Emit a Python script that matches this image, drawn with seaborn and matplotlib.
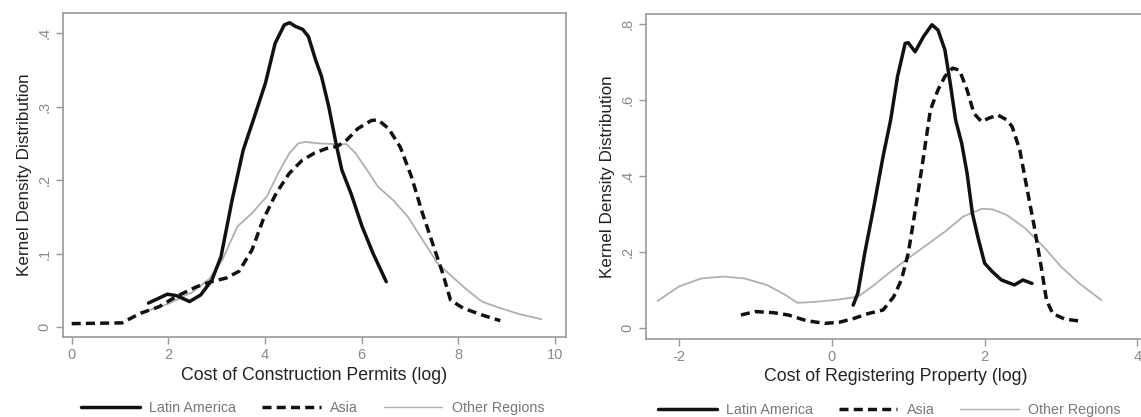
import numpy as np
import pandas as pd
import matplotlib
matplotlib.use("Agg")
import matplotlib.pyplot as plt
import seaborn as sns
from matplotlib.lines import Line2D

sns.set_theme(style="white")
plt.rcParams['font.family'] = ['Liberation Sans', 'DejaVu Sans']

# ---- Left panel: Cost of Construction Permits (log) ----
cp_latam_x = [1.59, 1.98, 2.17, 2.44, 2.67, 2.90, 3.09, 3.32, 3.55, 3.78, 4.01, 4.21, 4.40, 4.51,
              4.63, 4.78, 4.90, 5.05, 5.17, 5.32, 5.47, 5.59, 5.78, 6.01, 6.24, 6.51]
cp_latam_y = [0.033, 0.045, 0.043, 0.035, 0.044, 0.064, 0.096, 0.173, 0.241, 0.286, 0.332, 0.386,
              0.411, 0.414, 0.409, 0.405, 0.395, 0.363, 0.341, 0.300, 0.250, 0.214, 0.182, 0.137,
              0.100, 0.062]
cp_asia_x = [0.0, 1.04, 1.42, 1.81, 2.17, 2.58, 2.89, 3.20, 3.46, 3.73, 3.96, 4.23, 4.50, 4.77,
             5.03, 5.27, 5.50, 5.70, 5.92, 6.20, 6.34, 6.56, 6.80, 7.03, 7.26, 7.49, 7.68, 7.84,
             8.10, 8.48, 8.87]
cp_asia_y = [0.005, 0.006, 0.019, 0.028, 0.042, 0.055, 0.062, 0.067, 0.076, 0.105, 0.146, 0.182,
             0.209, 0.227, 0.237, 0.243, 0.246, 0.255, 0.270, 0.281, 0.282, 0.270, 0.245, 0.205,
             0.155, 0.110, 0.073, 0.037, 0.026, 0.017, 0.009]
cp_other_x = [1.55, 2.00, 2.50, 2.85, 3.12, 3.43, 3.73, 4.04, 4.27, 4.50, 4.69, 4.84, 5.11, 5.42,
              5.69, 5.88, 6.11, 6.34, 6.65, 6.96, 7.26, 7.57, 7.87, 8.18, 8.49, 8.87, 9.26, 9.72]
cp_other_y = [0.022, 0.032, 0.048, 0.066, 0.092, 0.137, 0.155, 0.178, 0.209, 0.236, 0.250, 0.252,
              0.250, 0.249, 0.249, 0.236, 0.214, 0.191, 0.173, 0.150, 0.119, 0.087, 0.069, 0.051,
              0.035, 0.026, 0.018, 0.011]

# ---- Right panel: Cost of Registering Property (log) ----
rp_latam_x = [0.28, 0.34, 0.43, 0.55, 0.67, 0.77, 0.86, 0.96, 1.00, 1.09, 1.20, 1.31, 1.39, 1.48,
              1.55, 1.62, 1.70, 1.77, 1.84, 1.91, 2.00, 2.10, 2.22, 2.39, 2.50, 2.62]
rp_latam_y = [0.061, 0.092, 0.197, 0.320, 0.451, 0.548, 0.662, 0.749, 0.751, 0.727, 0.767, 0.798,
              0.784, 0.732, 0.644, 0.548, 0.486, 0.408, 0.302, 0.241, 0.171, 0.149, 0.127, 0.114,
              0.127, 0.118]
rp_asia_x = [-1.19, -1.00, -0.76, -0.57, -0.33, -0.09, 0.10, 0.29, 0.48, 0.67, 0.81, 0.91, 1.00,
             1.10, 1.20, 1.29, 1.39, 1.48, 1.58, 1.67, 1.77, 1.86, 1.96, 2.05, 2.17, 2.29, 2.36,
             2.46, 2.55, 2.65, 2.74, 2.81, 2.89, 3.05, 3.29]
rp_asia_y = [0.035, 0.044, 0.041, 0.035, 0.020, 0.013, 0.016, 0.026, 0.039, 0.048, 0.083, 0.127,
             0.197, 0.320, 0.451, 0.574, 0.627, 0.662, 0.684, 0.679, 0.627, 0.565, 0.543, 0.552,
             0.561, 0.548, 0.530, 0.469, 0.372, 0.267, 0.162, 0.074, 0.039, 0.024, 0.018]
rp_other_x = [-2.28, -2.00, -1.71, -1.42, -1.14, -0.85, -0.61, -0.45, -0.19, 0.10, 0.34, 0.53,
              0.77, 1.00, 1.24, 1.48, 1.72, 1.96, 2.10, 2.29, 2.53, 2.77, 3.00, 3.24, 3.53]
rp_other_y = [0.072, 0.110, 0.131, 0.136, 0.131, 0.114, 0.088, 0.067, 0.070, 0.076, 0.083, 0.110,
              0.149, 0.184, 0.219, 0.254, 0.294, 0.314, 0.313, 0.298, 0.263, 0.215, 0.162, 0.118,
              0.074]

series_names = ["Latin America", "Asia", "Other Regions"]
left_xticks = [0, 2, 4, 6, 8, 10]
left_yticks = [0, 0.1, 0.2, 0.3, 0.4]
left_yticklabels = ["0", ".1", ".2", ".3", ".4"]
right_xticks = [-2, 0, 2, 4]
right_yticks = [0, 0.2, 0.4, 0.6, 0.8]
right_yticklabels = ["0", ".2", ".4", ".6", ".8"]

styles = {
    "Latin America": dict(color="#111111", lw=2.5, ls="-"),
    "Asia": dict(color="#111111", lw=2.5, ls=(0, (2.6, 1.5))),
    "Other Regions": dict(color="#b0b0b0", lw=1.3, ls="-"),
}

W, H = 1141, 417
fig = plt.figure(figsize=(W / 100, H / 100), dpi=100)
fig.patch.set_facecolor("white")

def px_axes(l, t, r, b):
    return fig.add_axes([l / W, 1 - b / H, (r - l) / W, (b - t) / H])

ax1 = px_axes(62.7, 12.7, 566, 337.3)
ax2 = px_axes(645.7, 14.3, 1146, 339)

panels = [
    (ax1, [(cp_latam_x, cp_latam_y), (cp_asia_x, cp_asia_y), (cp_other_x, cp_other_y)],
     (-0.186, 10.23), (-0.0136, 0.4276), left_xticks, left_yticks, left_yticklabels,
     "Cost of Construction Permits (log)", 0.497),
    (ax2, [(rp_latam_x, rp_latam_y), (rp_asia_x, rp_asia_y), (rp_other_x, rp_other_y)],
     (-2.436, 4.112), (-0.0281, 0.8255), right_xticks, right_yticks, right_yticklabels,
     "Cost of Registering Property (log)", 0.487),
]

for ax, data, xl, yl, xt, yt, ytl, xlabel, legx in panels:
    ax.set_facecolor("white")
    order = [2, 1, 0]
    for i in order:
        name = series_names[i]
        xs, ys = data[i]
        st = styles[name]
        sns.lineplot(x=xs, y=ys, ax=ax, sort=False, color=st["color"], linewidth=st["lw"],
                     linestyle=st["ls"], estimator=None)
    ax.set_xlim(*xl)
    ax.set_ylim(*yl)
    ax.set_xticks(xt)
    ax.set_xticklabels([str(v) for v in xt])
    ax.set_yticks(yt)
    ax.set_yticklabels(ytl, rotation=90, va="center")
    for s in ax.spines.values():
        s.set_color("#9a9a9a")
        s.set_linewidth(1.2)
        s.set_visible(True)
    ax.tick_params(axis="both", which="major", direction="out", length=5, width=1,
                   color="#9a9a9a", labelcolor="#8a8a8a", labelsize=10.5, pad=3,
                   bottom=True, left=True)
    ax.set_xlabel(xlabel, fontsize=12.8, color="#222222", labelpad=3)
    ax.set_ylabel("Kernel Density Distribution", fontsize=12.3, color="#222222", labelpad=4)
    handles = [Line2D([0], [0], color=styles[n]["color"],
                      lw=styles[n]["lw"] if n != "Other Regions" else 1.0,
                      ls=styles[n]["ls"]) for n in series_names]
    leg = ax.legend(handles, series_names, loc="center", bbox_to_anchor=(legx, -0.218),
                    ncol=3, frameon=False, fontsize=10.3, handlelength=4.1,
                    handletextpad=0.65, columnspacing=1.8)
    for t in leg.get_texts():
        t.set_color("#777777")

fig.savefig("out.png", dpi=100, facecolor="white")
